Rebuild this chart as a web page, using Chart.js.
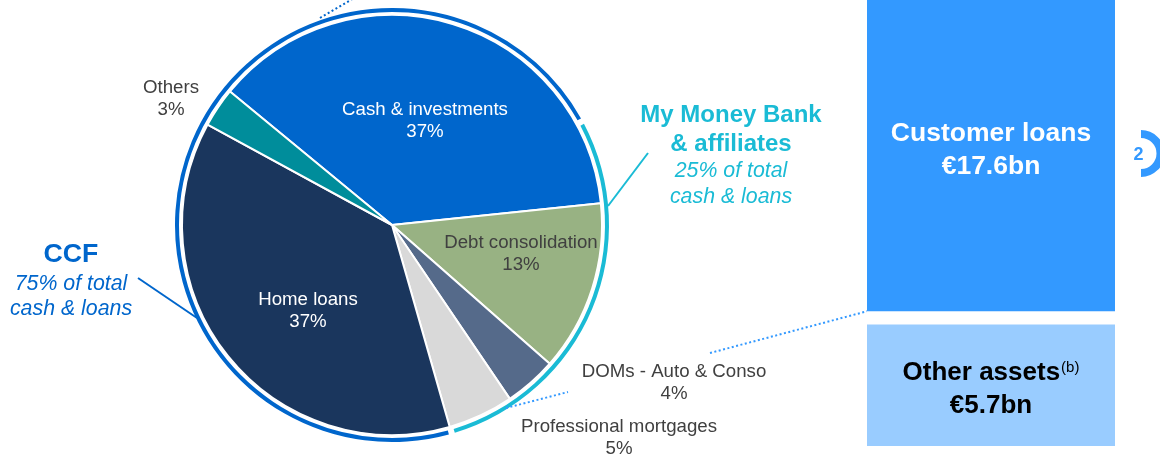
<!DOCTYPE html>
<html>
<head>
<meta charset="utf-8">
<script src="https://cdn.jsdelivr.net/npm/chart.js@4.4.1/dist/chart.umd.min.js"></script>
<style>
  html, body { margin: 0; padding: 0; background: #fff; }
  #wrap { position: relative; width: 1160px; height: 455px; overflow: hidden; }
  #pieBox { position: absolute; left: 0; top: 0; width: 1160px; height: 455px; }
  #barBox { position: absolute; left: 867px; top: 0; width: 248px; height: 455px; }
</style>
</head>
<body>
<div id="wrap">
  <div id="pieBox"><canvas id="pieChart"></canvas></div>
  <div id="barBox"><canvas id="barChart"></canvas></div>
</div>
<script>
// pie: split of cash & loans
const pieLabels = ['Cash & investments', 'Debt consolidation', 'DOMs - Auto & Conso', 'Professional mortgages', 'Home loans', 'Others'];
const pieValues = [37, 13, 4, 5, 37, 3];
const pieColors = ['#0066CC', '#98B283', '#556A8A', '#D9D9D9', '#1A365D', '#008D9B'];

// outer ring: entity split (share of the ring as drawn)
const ringLabels = ['My Money Bank & affiliates', 'CCF'];
const ringValues = [28.5, 71.5];
const ringColors = ['#1ABBD5', '#0066CC'];
const ringNotes = ['25% of total', '75% of total'];

// balance sheet boxes on the right
const balanceLabels = ['Other assets', 'Customer loans'];
const balanceValues = [5.7, 17.6];

const FONT = '"Liberation Sans", Arial, sans-serif';
const GREY = '#404040';
const RING_GAP = 0.45;

// ring data with small gaps between the two arcs
const ringData = [];
const ringBg = [];
ringValues.forEach((v, i) => {
  ringData.push(v - RING_GAP, RING_GAP);
  ringBg.push(ringColors[i], 'rgba(0,0,0,0)');
});

// label anchors (baseline of first line) relative to the pie centre
const pieLabelSpots = [
  { dx: 33, dy: -110, color: '#fff' },
  { dx: 129, dy: 23, color: GREY },
  { dx: 282, dy: 152, color: GREY },
  { dx: 227, dy: 207, color: GREY },
  { dx: -84, dy: 80, color: '#fff' },
  { dx: -221, dy: -132, color: GREY }
];

function dotted(ctx, x1, y1, x2, y2, color) {
  ctx.save();
  ctx.strokeStyle = color;
  ctx.lineWidth = 2;
  ctx.setLineDash([2, 2.5]);
  ctx.beginPath();
  ctx.moveTo(x1, y1);
  ctx.lineTo(x2, y2);
  ctx.stroke();
  ctx.restore();
}

function solid(ctx, x1, y1, x2, y2, color) {
  ctx.save();
  ctx.strokeStyle = color;
  ctx.lineWidth = 2;
  ctx.beginPath();
  ctx.moveTo(x1, y1);
  ctx.lineTo(x2, y2);
  ctx.stroke();
  ctx.restore();
}

const pieText = {
  id: 'pieText',
  afterDraw(chart) {
    const ctx = chart.ctx;
    const arc = chart.getDatasetMeta(2).data[0];
    const cx = arc.x, cy = arc.y;
    ctx.save();
    ctx.textAlign = 'center';
    ctx.textBaseline = 'alphabetic';
    ctx.font = '18.67px ' + FONT;
    pieLabels.forEach((lab, i) => {
      const s = pieLabelSpots[i];
      ctx.fillStyle = s.color;
      ctx.fillText(lab, cx + s.dx, cy + s.dy);
      ctx.fillText(pieValues[i] + '%', cx + s.dx, cy + s.dy + 21.5);
    });

    // My Money Bank annotation
    ctx.fillStyle = ringColors[0];
    ctx.font = 'bold 24px ' + FONT;
    ctx.fillText('My Money Bank', 731, 122);
    ctx.fillText('& affiliates', 731, 151);
    ctx.font = 'italic 21.33px ' + FONT;
    ctx.fillText(ringNotes[0], 731, 177);
    ctx.fillText('cash & loans', 731, 203);
    solid(ctx, 648, 153, 608, 206, ringColors[0]);

    // CCF annotation
    ctx.fillStyle = ringColors[1];
    ctx.font = 'bold 26.67px ' + FONT;
    ctx.fillText(ringLabels[1], 71, 262);
    ctx.font = 'italic 21.33px ' + FONT;
    ctx.fillText(ringNotes[1], 71, 290);
    ctx.fillText('cash & loans', 71, 315);
    solid(ctx, 138, 278, 197, 318, ringColors[1]);

    // dotted connectors
    dotted(ctx, 320, 18, 354, -2, '#0066CC');
    dotted(ctx, 506, 408, 568, 392, '#3399FF');
    dotted(ctx, 710, 353, 868, 311, '#3399FF');

    // page marker
    ctx.strokeStyle = '#3399FF';
    ctx.lineWidth = 8;
    ctx.beginPath();
    ctx.arc(1141, 153.5, 19.5, -Math.PI / 2, Math.PI / 2, false);
    ctx.stroke();
    ctx.fillStyle = '#3399FF';
    ctx.font = 'bold 18px ' + FONT;
    ctx.fillText('2', 1138.5, 160);
    ctx.restore();
  }
};

new Chart(document.getElementById('pieChart'), {
  type: 'pie',
  data: {
    labels: pieLabels,
    datasets: [
      {
        label: 'Entity',
        data: ringData,
        backgroundColor: ringBg,
        borderWidth: 0,
        weight: 4,
        rotation: 62.2
      },
      {
        label: 'spacer',
        data: [1],
        backgroundColor: 'rgba(0,0,0,0)',
        borderWidth: 0,
        weight: 3
      },
      {
        label: 'Cash & loans',
        data: pieValues,
        backgroundColor: pieColors,
        borderColor: '#fff',
        borderWidth: 2,
        weight: 210,
        rotation: -50.5
      }
    ]
  },
  options: {
    responsive: true,
    maintainAspectRatio: false,
    animation: false,
    events: [],
    offset: 0,
    hoverOffset: 0,
    layout: { padding: { left: 175, top: 8, right: 551, bottom: 13 } },
    plugins: {
      legend: { display: false },
      tooltip: { enabled: false }
    }
  },
  plugins: [pieText]
});

// balance sheet text inside the boxes
const barText = {
  id: 'barText',
  afterDatasetsDraw(chart) {
    const ctx = chart.ctx;
    ctx.save();
    ctx.textAlign = 'center';
    ctx.textBaseline = 'alphabetic';

    // customer loans
    const cl = chart.getDatasetMeta(1).data[0];
    ctx.fillStyle = '#fff';
    ctx.font = 'bold 26.5px ' + FONT;
    ctx.fillText(balanceLabels[1], cl.x, cl.base - 184);
    ctx.fillText('€' + balanceValues[1] + 'bn', cl.x, cl.base - 151);

    // other assets, with superscript note
    const oa = chart.getDatasetMeta(0).data[0];
    ctx.fillStyle = '#000';
    ctx.font = 'bold 26px ' + FONT;
    const w1 = ctx.measureText(balanceLabels[0]).width;
    ctx.font = '15px ' + FONT;
    const w2 = ctx.measureText('(b)').width;
    const x0 = oa.x - (w1 + w2 + 1) / 2;
    ctx.textAlign = 'left';
    ctx.font = 'bold 26px ' + FONT;
    ctx.fillText(balanceLabels[0], x0, oa.base - 66);
    ctx.font = '15px ' + FONT;
    ctx.fillText('(b)', x0 + w1 + 1, oa.base - 74);
    ctx.textAlign = 'center';
    ctx.font = 'bold 26px ' + FONT;
    ctx.fillText('€' + balanceValues[0] + 'bn', oa.x, oa.base - 33);
    ctx.restore();
  }
};

new Chart(document.getElementById('barChart'), {
  type: 'bar',
  data: {
    labels: ['Balance sheet'],
    datasets: [
      {
        label: balanceLabels[0],
        data: [balanceValues[0]],
        backgroundColor: '#99CCFF',
        borderWidth: 0
      },
      {
        label: balanceLabels[1],
        data: [balanceValues[1]],
        backgroundColor: '#3399FF',
        borderColor: '#fff',
        borderWidth: { top: 0, left: 0, right: 0, bottom: 14 },
        borderSkipped: false
      }
    ]
  },
  options: {
    responsive: true,
    maintainAspectRatio: false,
    animation: false,
    events: [],
    barPercentage: 1,
    categoryPercentage: 1,
    layout: { padding: { left: 0, top: 0, right: 0, bottom: 9 } },
    scales: {
      x: { stacked: true, display: false },
      y: { stacked: true, display: false, min: 0, max: 21 }
    },
    plugins: {
      legend: { display: false },
      tooltip: { enabled: false }
    }
  },
  plugins: [barText]
});
</script>
</body>
</html>
